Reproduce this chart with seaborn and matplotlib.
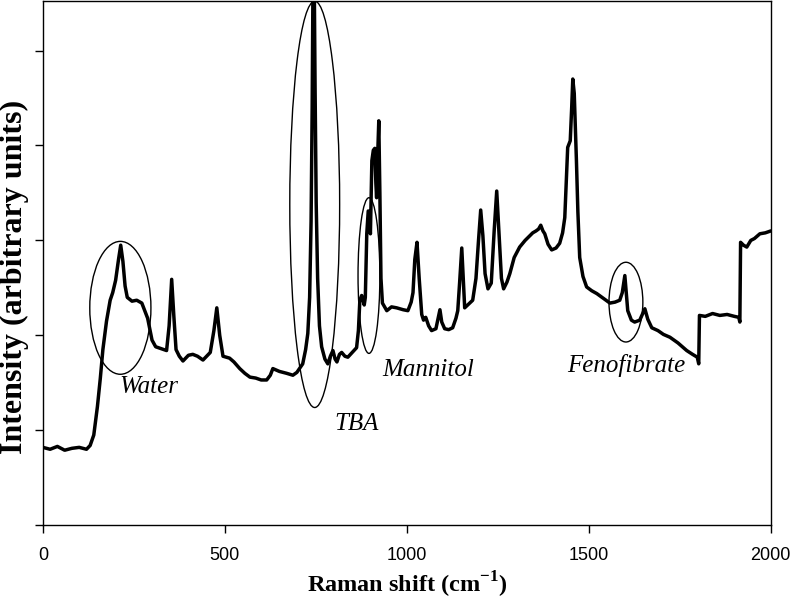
import matplotlib
matplotlib.use("Agg")
import matplotlib.pyplot as plt
from matplotlib.patches import Ellipse
import seaborn as sns
import pandas as pd

# spectrum (x = Raman shift, y = intensity in tick units)
raman_shift = [0, 20, 40, 60, 80, 100, 120, 130, 140, 150, 158, 165, 175, 185, 192, 200, 208, 214,
               220, 226, 232, 245, 258, 272, 288, 300, 310, 325, 340, 347, 354, 360, 366, 375,
               385, 400, 412, 425, 440, 460, 470, 478, 486, 495, 513, 525, 541, 555, 569, 585,
               600, 615, 625, 632, 650, 670, 687, 698, 714, 722, 728, 733, 737, 740, 742, 746,
               748, 751, 755, 760, 766, 775, 783, 790, 797, 803, 808, 815, 821, 830, 838, 850,
               862, 867, 871, 876, 879, 883, 886, 890, 894, 898, 900, 904, 908, 912, 915, 917,
               920, 923, 926, 929, 933, 945, 958, 972, 990, 1003, 1012, 1017, 1022, 1028, 1034,
               1041, 1046, 1052, 1060, 1068, 1080, 1086, 1091, 1096, 1104, 1115, 1126, 1135,
               1140, 1145, 1151, 1155, 1159, 1170, 1181, 1190, 1197, 1203, 1209, 1215, 1223,
               1232, 1240, 1247, 1253, 1260, 1266, 1275, 1283, 1295, 1310, 1325, 1338, 1346,
               1355, 1362, 1368, 1374, 1379, 1388, 1398, 1410, 1420, 1428, 1434, 1439, 1442,
               1449, 1453, 1456, 1460, 1463, 1466, 1470, 1475, 1484, 1494, 1508, 1522, 1540,
               1558, 1572, 1585, 1592, 1599, 1603, 1607, 1617, 1626, 1640, 1647, 1654, 1662,
               1673, 1690, 1705, 1723, 1745, 1769, 1785, 1798, 1802, 1804, 1820, 1840, 1860,
               1880, 1900, 1912, 1915, 1917, 1925, 1934, 1945, 1955, 1970, 1985, 2000]
intensity = [0.82, 0.80, 0.83, 0.79, 0.81, 0.82, 0.80, 0.84, 0.95, 1.25, 1.55, 1.85, 2.15, 2.37, 2.45,
             2.58, 2.80, 2.95, 2.78, 2.52, 2.40, 2.36, 2.37, 2.34, 2.18, 1.95, 1.88, 1.86, 1.84,
             2.10, 2.59, 2.20, 1.85, 1.78, 1.73, 1.79, 1.80, 1.78, 1.74, 1.82, 2.05, 2.29, 2.00,
             1.78, 1.76, 1.72, 1.65, 1.60, 1.56, 1.55, 1.53, 1.53, 1.58, 1.65, 1.62, 1.60, 1.58,
             1.61, 1.70, 1.85, 2.02, 2.40, 3.20, 4.40, 5.60, 5.60, 4.60, 3.40, 2.60, 2.10, 1.88,
             1.75, 1.70, 1.78, 1.84, 1.75, 1.72, 1.80, 1.82, 1.78, 1.77, 1.82, 1.87, 2.05, 2.37,
             2.42, 2.38, 2.32, 2.40, 3.07, 3.31, 3.15, 3.07, 3.84, 3.95, 3.97, 3.60, 3.45, 3.90,
             4.26, 3.50, 2.60, 2.34, 2.26, 2.30, 2.29, 2.27, 2.26, 2.35, 2.45, 2.80, 2.98, 2.60,
             2.22, 2.16, 2.19, 2.10, 2.05, 2.07, 2.18, 2.27, 2.14, 2.07, 2.06, 2.08, 2.18, 2.26,
             2.55, 2.92, 2.60, 2.29, 2.33, 2.37, 2.60, 3.00, 3.32, 3.05, 2.65, 2.49, 2.55, 3.10,
             3.52, 3.10, 2.60, 2.49, 2.56, 2.65, 2.82, 2.93, 3.00, 3.05, 3.08, 3.10, 3.12, 3.16,
             3.10, 3.07, 2.96, 2.90, 2.92, 2.97, 3.08, 3.24, 3.70, 3.98, 4.05, 4.40, 4.70, 4.55,
             4.20, 3.84, 3.30, 2.82, 2.62, 2.51, 2.47, 2.44, 2.39, 2.34, 2.35, 2.37, 2.45, 2.63,
             2.45, 2.26, 2.16, 2.14, 2.16, 2.22, 2.28, 2.17, 2.08, 2.05, 2.01, 1.98, 1.92, 1.84,
             1.80, 1.77, 1.70, 2.21, 2.20, 2.23, 2.21, 2.22, 2.20, 2.19, 2.14, 2.98, 2.95, 2.93,
             3.00, 3.02, 3.07, 3.08, 3.10]

# circled bands: name, ellipse centre x, centre y, width, height, label x, label y
band_names = ["Water", "TBA", "Mannitol", "Fenofibrate"]
ellipse_x = [213, 747, 896, 1602]
ellipse_y = [2.29, 3.38, 2.63, 2.35]
ellipse_w = [168, 137, 60, 93]
ellipse_h = [1.40, 4.28, 1.64, 0.84]
label_x = [292, 863, 1058, 1602]
label_y = [1.46, 1.07, 1.63, 1.68]

x_ticks = [0, 500, 1000, 1500, 2000]
y_ticks = [0, 1, 2, 3, 4, 5]

df = pd.DataFrame({"shift": raman_shift, "intensity": intensity})

sns.set_style("ticks")
plt.rcParams["font.family"] = ["Liberation Serif", "DejaVu Serif"]
plt.rcParams["mathtext.fontset"] = "custom"
plt.rcParams["mathtext.rm"] = "Liberation Serif"
plt.rcParams["mathtext.bf"] = "Liberation Serif:bold"
for key in ["text.color", "axes.labelcolor", "xtick.color", "ytick.color", "axes.edgecolor"]:
    plt.rcParams[key] = "black"

fig = plt.figure(figsize=(7.93, 6.03), dpi=100)
ax = fig.add_axes([0.054, 0.129, 0.918, 0.869])

sns.lineplot(data=df, x="shift", y="intensity", ax=ax, color="black", linewidth=2.5,
             estimator=None, sort=False)

for i in range(len(band_names)):
    ax.add_patch(Ellipse((ellipse_x[i], ellipse_y[i]), ellipse_w[i], ellipse_h[i],
                         fill=False, edgecolor="black", linewidth=1.0))
    ax.text(label_x[i], label_y[i], band_names[i], fontsize=18, style="italic",
            ha="center", va="center")

ax.set_xlim(0, 2000)
ax.set_ylim(0, 5.52)
ax.set_xticks(x_ticks)
ax.set_xticklabels([str(t) for t in x_ticks], family="Liberation Sans", fontsize=13)
ax.set_yticks(y_ticks)
ax.set_yticklabels([])
ax.tick_params(axis="both", direction="out", length=6, width=1, color="black", pad=10)
for s in ax.spines.values():
    s.set_linewidth(1)

ax.set_xlabel(r"Raman shift (cm$^{\mathbf{-1}}$)", fontsize=17.5, fontweight="bold", labelpad=4)
ax.set_ylabel("Intensity (arbitrary units)", fontsize=23, fontweight="bold")
ax.yaxis.set_label_coords(-0.019, 0.473)

fig.savefig("out.png", dpi=100)
